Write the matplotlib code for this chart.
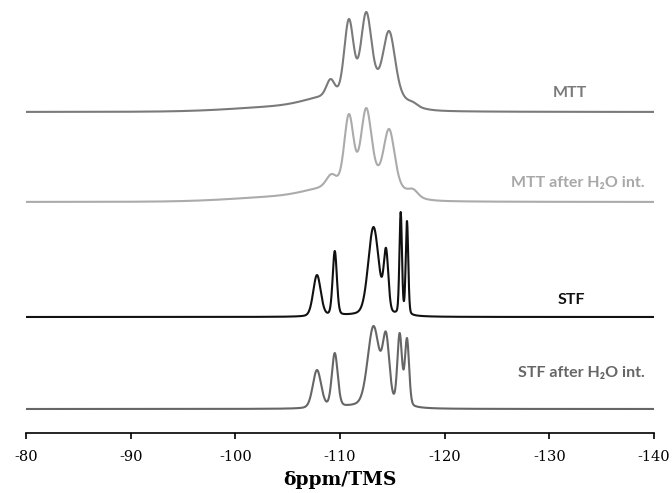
import numpy as np
import matplotlib.pyplot as plt

plt.rcParams["axes.unicode_minus"] = False

# 29Si MAS NMR spectra, stacked.
# broad_*: underlying broad components (centre ppm, sigma ppm, amplitude)
# *_centres / *_widths / *_heights: resolved lines and the curve height at each line
ppm = np.linspace(-80, -140, 4000)

mtt_broad_centres = [-105.0, -108.8, -114.0]
mtt_broad_widths = [5.0, 2.2, 1.8]
mtt_broad_heights = [5, 10, 22]
mtt_centres = [-109.1, -110.85, -112.5, -113.5, -114.7, -117.0]
mtt_widths = [0.4, 0.45, 0.5, 0.35, 0.55, 0.4]
mtt_heights = [33, 93, 100, 44, 81, 10]

mtt_h2o_broad_centres = [-105.0, -108.8, -114.0]
mtt_h2o_broad_widths = [5.0, 2.2, 1.8]
mtt_h2o_broad_heights = [5, 9, 20]
mtt_h2o_centres = [-109.2, -110.85, -112.5, -114.7, -117.0]
mtt_h2o_widths = [0.5, 0.45, 0.5, 0.5, 0.45]
mtt_h2o_heights = [28, 88, 94, 73, 13]

stf_broad_centres = [-113.0]
stf_broad_widths = [2.5]
stf_broad_heights = [2]
stf_centres = [-107.8, -109.5, -113.2, -114.4, -115.8, -116.4]
stf_widths = [0.36, 0.2, 0.5, 0.22, 0.12, 0.12]
stf_heights = [42, 66, 90, 69, 105, 96]

stf_h2o_broad_centres = [-113.0]
stf_h2o_broad_widths = [2.5]
stf_h2o_broad_heights = [3]
stf_h2o_centres = [-107.8, -109.5, -113.2, -114.4, -115.7, -116.4]
stf_h2o_widths = [0.4, 0.28, 0.55, 0.32, 0.22, 0.2]
stf_h2o_heights = [39, 56, 83, 77, 76, 71]

offsets = [321, 231, 116, 24]
labels = ["MTT", "MTT after H\u2082O int.", "STF", "STF after H\u2082O int."]
colors = ["#7a7a7a", "#ababab", "#111111", "#666666"]
text_colors = ["#7a7a7a", "#a8a8a8", "#111111", "#666666"]


def shape(x, c, w):
    # pseudo-Voigt line, mostly Gaussian with a bit of Lorentzian tail
    g = np.exp(-0.5 * ((x - c) / w) ** 2)
    lo = 1.0 / (1.0 + ((x - c) / (1.18 * w)) ** 2)
    return 0.8 * g + 0.2 * lo


def spectrum(x, b_c, b_w, b_h, centres, widths, heights):
    bc, bw, bh = np.array(b_c), np.array(b_w), np.array(b_h, dtype=float)
    c, w = np.array(centres), np.array(widths)
    base_at_c = (bh[None, :] * shape(c[:, None], bc[None, :], bw[None, :])).sum(axis=1)
    # line amplitudes chosen so the summed curve hits the given heights
    A = shape(c[:, None], c[None, :], w[None, :])
    amps = np.linalg.solve(A, np.array(heights, dtype=float) - base_at_c)
    base = (bh[None, :] * shape(x[:, None], bc[None, :], bw[None, :])).sum(axis=1)
    return base + (amps[None, :] * shape(x[:, None], c[None, :], w[None, :])).sum(axis=1)


traces = [
    spectrum(ppm, mtt_broad_centres, mtt_broad_widths, mtt_broad_heights,
             mtt_centres, mtt_widths, mtt_heights),
    spectrum(ppm, mtt_h2o_broad_centres, mtt_h2o_broad_widths, mtt_h2o_broad_heights,
             mtt_h2o_centres, mtt_h2o_widths, mtt_h2o_heights),
    spectrum(ppm, stf_broad_centres, stf_broad_widths, stf_broad_heights,
             stf_centres, stf_widths, stf_heights),
    spectrum(ppm, stf_h2o_broad_centres, stf_h2o_broad_widths, stf_h2o_broad_heights,
             stf_h2o_centres, stf_h2o_widths, stf_h2o_heights),
]

fig = plt.figure(figsize=(6.72, 4.93), dpi=100)
ax = fig.add_axes([26 / 672, 60 / 493, 628 / 672, 433 / 493])

for y, off, col in zip(traces, offsets, colors):
    ax.plot(ppm, y + off, color=col, lw=1.5)

# labels sit above the right end of each trace
label_pos = [(-132.0, 340, "center"), (-139.1, 250, "right"),
             (-132.1, 133, "center"), (-139.1, 60, "right")]
for (px, py, ha), text, col in zip(label_pos, labels, text_colors):
    ax.text(px, py, text, color=col, ha=ha, va="center",
            fontsize=11.5, fontweight="bold", family=["Lato", "DejaVu Sans"])

ax.set_xlim(-80, -140)
ax.set_ylim(0, 433)
for side in ["left", "right", "top"]:
    ax.spines[side].set_visible(False)
ax.spines["bottom"].set_linewidth(1.2)
ax.set_yticks([])
ax.set_xticks(np.arange(-80, -141, -10))
ax.tick_params(axis="x", direction="out", length=4, width=1.2, pad=8, labelsize=10.5)
for lab in ax.get_xticklabels():
    lab.set_family("DejaVu Serif")
ax.set_xlabel("\u03b4ppm/TMS", fontsize=13.5, fontweight="bold", family="DejaVu Serif", labelpad=5)

fig.savefig("out.png", dpi=100)
